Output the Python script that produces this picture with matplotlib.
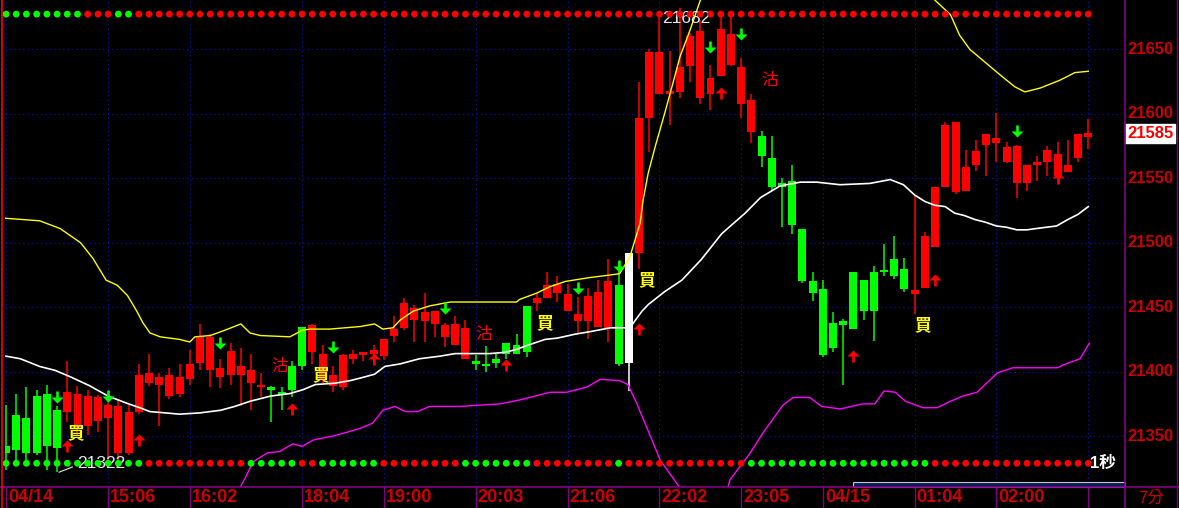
import matplotlib
matplotlib.use("Agg")
import matplotlib.pyplot as plt
import numpy as np
from matplotlib.path import Path
from matplotlib.transforms import blended_transform_factory
from matplotlib.patches import Rectangle
from matplotlib.lines import Line2D

# ---- candle data (one per bar, left to right) ----
opens = [21342, 21366, 21364, 21381, 21383, 21370, 21369, 21357, 21358, 21362,
         21364, 21337, 21337, 21369, 21391, 21390, 21381, 21383, 21394, 21407,
         21401, 21396, 21397, 21397, 21391, 21388, 21387, 21384, 21404, 21435,
         21415, 21394, 21389, 21388, 21410, 21413, 21414, 21412, 21428, 21434,
         21440, 21439, 21437, 21427, 21421, 21410, 21407, 21405, 21410, 21422,
         21421, 21451, 21453, 21457, 21461, 21447, 21439, 21439, 21435, 21434,
         21467, 21407, 21492, 21597, 21615, 21615, 21617, 21637, 21612, 21615,
         21629, 21638, 21608, 21586, 21583, 21566, 21546, 21548, 21511, 21470,
         21464, 21438, 21439, 21477, 21471, 21477, 21478, 21487, 21480, 21460,
         21465, 21497, 21543, 21539, 21540, 21560, 21576, 21577, 21563, 21546,
         21546, 21560, 21563, 21552, 21555, 21566, 21582]
highs = [21374, 21383, 21388, 21386, 21390, 21373, 21408, 21389, 21386, 21382,
         21381, 21378, 21374, 21406, 21414, 21399, 21403, 21406, 21417, 21437,
         21429, 21410, 21422, 21418, 21414, 21399, 21389, 21388, 21408, 21435,
         21437, 21421, 21404, 21414, 21417, 21414, 21421, 21425, 21443, 21457,
         21452, 21461, 21447, 21438, 21443, 21440, 21413, 21420, 21414, 21422,
         21429, 21451, 21461, 21477, 21474, 21468, 21458, 21465, 21471, 21487,
         21485, 21492, 21625, 21650, 21676, 21649, 21682, 21663, 21673, 21638,
         21675, 21678, 21643, 21615, 21587, 21583, 21550, 21560, 21511, 21477,
         21471, 21446, 21441, 21477, 21471, 21482, 21499, 21505, 21488, 21537,
         21508, 21543, 21594, 21594, 21572, 21580, 21584, 21601, 21578, 21576,
         21560, 21567, 21575, 21578, 21580, 21584, 21596]
lows = [21324, 21331, 21331, 21335, 21324, 21322, 21361, 21350, 21351, 21353,
        21326, 21325, 21335, 21367, 21389, 21358, 21379, 21380, 21390, 21401,
        21388, 21387, 21390, 21373, 21370, 21380, 21361, 21370, 21380, 21401,
        21406, 21391, 21384, 21386, 21406, 21408, 21406, 21409, 21423, 21432,
        21423, 21423, 21427, 21419, 21421, 21410, 21401, 21400, 21403, 21410,
        21414, 21411, 21447, 21457, 21454, 21447, 21430, 21425, 21435, 21423,
        21404, 21385, 21480, 21570, 21615, 21591, 21612, 21625, 21608, 21603,
        21629, 21637, 21597, 21577, 21559, 21540, 21512, 21507, 21469, 21455,
        21411, 21415, 21390, 21433, 21440, 21424, 21474, 21472, 21462, 21445,
        21465, 21497, 21543, 21538, 21540, 21556, 21552, 21563, 21562, 21535,
        21540, 21548, 21552, 21547, 21555, 21563, 21573]
closes = [21337, 21339, 21337, 21337, 21342, 21341, 21384, 21383, 21381, 21380,
          21374, 21373, 21369, 21397, 21399, 21396, 21397, 21396, 21406, 21428,
          21427, 21403, 21416, 21404, 21401, 21389, 21386, 21382, 21386, 21404,
          21436, 21414, 21397, 21413, 21414, 21414, 21417, 21425, 21433, 21453,
          21449, 21446, 21447, 21436, 21437, 21434, 21406, 21404, 21407, 21414,
          21414, 21415, 21457, 21467, 21468, 21460, 21445, 21459, 21462, 21470,
          21406, 21492, 21597, 21648, 21648, 21618, 21636, 21660, 21664, 21628,
          21666, 21662, 21636, 21611, 21567, 21543, 21543, 21514, 21470, 21461,
          21413, 21418, 21436, 21433, 21447, 21447, 21477, 21474, 21464, 21463,
          21505, 21543, 21591, 21594, 21559, 21571, 21584, 21581, 21574, 21575,
          21560, 21563, 21572, 21569, 21560, 21584, 21585]
white_bars = [61]

# bollinger style bands, read as (bar index, price)
upper_pts = [(-0.1, 21519), (3.3, 21517), (5.3, 21511), (7.3, 21500), (8.5, 21488),
             (9.8, 21471), (10.9, 21467), (11.9, 21459), (12.8, 21447), (13.4, 21438),
             (14.1, 21430), (15.1, 21427), (17.0, 21425), (18.0, 21423), (18.5, 21427),
             (20.0, 21428), (21.4, 21432), (23.0, 21437), (23.9, 21430), (24.9, 21428),
             (27.8, 21427), (29.0, 21432), (29.8, 21433), (31.7, 21433), (33.2, 21434),
             (34.7, 21435), (36.1, 21437), (36.9, 21433), (37.9, 21434), (38.6, 21440),
             (39.9, 21447), (41.5, 21451), (43.5, 21454), (45.4, 21454), (50.0, 21454),
             (50.3, 21456), (52.0, 21461), (53.3, 21466), (54.8, 21470), (57.2, 21473),
             (59.2, 21475), (60.1, 21476), (61.1, 21489), (61.6, 21502), (62.1, 21515),
             (62.4, 21533), (62.9, 21554), (63.6, 21575), (64.5, 21600), (65.5, 21629),
             (66.0, 21644), (67.0, 21665), (68.0, 21688), (70.0, 21715), (75.0, 21745),
             (80.0, 21755), (85.0, 21740), (89.0, 21712), (91.0, 21688), (92.5, 21677),
             (93.4, 21661), (94.4, 21650), (95.9, 21640), (97.4, 21630), (98.8, 21621),
             (99.8, 21617), (101.3, 21620), (103.2, 21626), (104.7, 21632), (106.0, 21633)]
middle_pts = [(0, 21412), (1.4, 21410), (3.3, 21404), (4.8, 21401), (6.3, 21396),
              (8.2, 21389), (10, 21381), (12, 21375), (13.1, 21372), (14.1, 21369),
              (15.6, 21368), (17, 21367), (19, 21368), (21, 21370), (22.4, 21373),
              (23.9, 21377), (25.9, 21381), (27.8, 21383), (29.1, 21386), (30.3, 21390),
              (32.2, 21391), (33.7, 21393), (34.7, 21395), (36.1, 21398), (37.1, 21404),
              (38.6, 21406), (40.5, 21410), (42.5, 21412), (44, 21414), (47.4, 21414),
              (48.9, 21415), (49.9, 21417), (51.3, 21421), (52.8, 21425), (54, 21426),
              (55.7, 21429), (57.2, 21431), (59.2, 21434), (61.1, 21434), (62.3, 21447),
              (62.9, 21452), (64.5, 21462), (66.2, 21471), (68.1, 21487), (70.1, 21507),
              (72.4, 21523), (73.9, 21535), (75.8, 21544), (77.8, 21547), (79.4, 21547),
              (81.7, 21545), (84.6, 21546), (86.6, 21549), (87.9, 21545), (89, 21537),
              (90, 21532), (91, 21529), (92, 21528), (92.9, 21523), (93.9, 21521),
              (94.9, 21518), (95.9, 21516), (97, 21513), (98, 21512), (99, 21510),
              (100, 21510), (100.9, 21511), (101.9, 21512), (102.9, 21513), (104, 21518),
              (105, 21522), (106, 21528)]
lower_pts = [(21.5, 21290), (23.4, 21317), (24.2, 21330), (25.6, 21337), (26.8, 21338),
             (28.1, 21344), (29, 21342), (30.1, 21347), (32, 21350), (33.4, 21353),
             (34.7, 21356), (35.9, 21360), (36.9, 21370), (38.1, 21373), (39.1, 21369),
             (40.3, 21369), (41.5, 21373), (44.5, 21373), (46.4, 21374), (48.4, 21375),
             (50.3, 21378), (52.3, 21382), (53.3, 21384), (54.9, 21384), (56.9, 21388),
             (58.2, 21394), (60.1, 21393), (60.9, 21390), (61.8, 21375), (64.1, 21331),
             (66, 21310), (68, 21285), (70, 21290), (70.9, 21316), (72.9, 21337),
             (74.1, 21352), (75.1, 21363), (76.1, 21374), (77.1, 21380), (78.7, 21380),
             (79.9, 21373), (81.7, 21371), (83.9, 21375), (85.1, 21375), (86, 21385),
             (87.1, 21384), (88.1, 21377), (89.8, 21372), (91.2, 21372), (92.5, 21377),
             (93.7, 21381), (95.1, 21384), (97.1, 21399), (98.6, 21403), (99.6, 21403),
             (103, 21403), (103.5, 21405), (105.2, 21410), (106.1, 21422)]

# trade signals
buy_idx = [7, 31, 53, 63, 90]
buy_px = [21352, 21397, 21438, 21471, 21436]
sell_idx = [27, 47, 75]
sell_px = [21404, 21429, 21626]
dn_idx = [5, 10, 21, 32, 43, 56, 60, 69, 72, 99]
dn_px = [21380, 21381, 21422, 21419, 21449, 21465, 21482, 21652, 21662, 21587]
up_idx = [6, 13, 28, 36, 49, 62, 70, 83, 91, 103]
up_px = [21342, 21347, 21371, 21410, 21405, 21433, 21616, 21412, 21471, 21550]

# indicator dot rows (G = green, R = red)
top_dots = "GGGGGGGGRRRGG" + "R" * 94
bot_dots = ("GGGGGGGGGGGGGG" + "RRRRRRRRRR" + "GGGGG" + "RR" + "GGGGGG" + "RRRRRRRR"
            + "GGGGGGG" + "RRRRRRRR" + "G" + "RRRRRRRRRRRR" + "GGGGGGGGGGGGGGGGGG"
            + "RRRRRRRRRRRRRRRR")

tick_idx = [0, 10, 18, 29, 37, 46, 55, 64, 72, 80, 89, 97]
tick_lbl = ["04/14", "15:06", "16:02", "18:04", "19:00", "20:03", "21:06",
            "22:02", "23:05", "04/15", "01:04", "02:00"]
price_ticks = [21350, 21400, 21450, 21500, 21550, 21600, 21650]
last_price = 21585

W, H = 1179, 508
fig = plt.figure(figsize=(W / 100, H / 100), dpi=100, facecolor="black")
ax = fig.add_axes([5 / W, 21 / H, 1120 / W, 487 / H])
ax.set_facecolor("black")
ax.set_xlim(-0.1, 109.6)
ax.set_ylim(21310.5, 21688.3)
ax.set_xticks([])
ax.set_yticks([])
for s in ax.spines.values():
    s.set_visible(False)

grid_c = "#1010c8"
ax.hlines(price_ticks, -0.1, 109.6, colors=grid_c, lw=0.8, linestyles=(0, (1, 3)), zorder=1)
ax.vlines(tick_idx + [106], 21310.5, 21688.3, colors=grid_c, lw=0.8, linestyles=(0, (1, 3)), zorder=1)

o = np.array(opens, float)
c = np.array(closes, float)
hi = np.array(highs, float)
lo = np.array(lows, float)
x = np.arange(len(o))
cols = np.where(c >= o, "#ff0000", "#00ff00").astype(object)
for i in white_bars:
    cols[i] = "#ffffff"
ax.vlines(x, lo, hi, colors=list(cols), lw=1.1, zorder=2)
bot = np.minimum(o, c)
hgt = np.maximum(np.abs(c - o), 2.0)
ax.bar(x, hgt, bottom=bot, width=0.78, color=list(cols), linewidth=0, zorder=3)

# bands
for pts, col, lw in [(upper_pts, "#ffff00", 1.0), (middle_pts, "#ffffff", 1.2), (lower_pts, "#ff00ff", 1.0)]:
    px, py = zip(*pts)
    ax.plot(px, py, color=col, lw=lw, zorder=4)

# arrows
dn_arrow = Path([(-0.11, 0.5), (0.11, 0.5), (0.11, 0.0), (0.5, 0.0), (0.0, -0.5),
                 (-0.5, 0.0), (-0.11, 0.0), (-0.11, 0.5)],
                [Path.MOVETO] + [Path.LINETO] * 6 + [Path.CLOSEPOLY])
up_arrow = Path([(vx, -vy) for vx, vy in dn_arrow.vertices], dn_arrow.codes)
ax.scatter(dn_idx, dn_px, marker=dn_arrow, s=75, color="#00ff00", linewidths=0, zorder=6)
ax.scatter(up_idx, up_px, marker=up_arrow, s=75, color="#ff0000", linewidths=0, zorder=6)

cjk = ["Noto Sans CJK TC", "DejaVu Sans"]
for i, p in zip(buy_idx, buy_px):
    ax.text(i - 0.2, p, "買", color="#ffff00", fontsize=12, family=cjk,
            fontweight="bold", ha="center", va="center", zorder=6)
for i, p in zip(sell_idx, sell_px):
    ax.text(i - 0.2, p, "沽", color="#ff0000", fontsize=12, family=cjk,
            ha="center", va="center", zorder=6)

# high / low labels
hi_i = int(np.argmax(hi))
lo_i = int(np.argmin(lo))
ax.text(hi_i + 0.6, hi[hi_i] - 8, f"{int(hi[hi_i])}", color="#e8e8e8", fontsize=12.5,
        family="Liberation Sans", ha="center", va="center", zorder=5)
ax.plot([lo_i + 0.2, lo_i + 1.5], [lo[lo_i], lo[lo_i] + 4], color="#e8e8e8", lw=0.8, zorder=5)
ax.text(lo_i + 2.0, lo[lo_i] + 7, f"{int(lo[lo_i])}", color="#e8e8e8", fontsize=12.5,
        family="Liberation Sans", ha="left", va="center", zorder=5)

# dot rows
tr = blended_transform_factory(ax.transData, ax.transAxes)
dot_map = {"G": "#00ff00", "R": "#ff0000"}
ax.scatter(x, np.full(len(x), 0.971), s=24, c=[dot_map[k] for k in top_dots],
           transform=tr, linewidths=0, zorder=7, clip_on=False)
ax.scatter(x, np.full(len(x), 0.0487), s=24, c=[dot_map[k] for k in bot_dots],
           transform=tr, linewidths=0, zorder=7, clip_on=False)

ax.text(0.980, 0.049, "1秒", transform=ax.transAxes, color="white", fontsize=12,
        family=["Liberation Sans", "Noto Sans CJK TC"], fontweight="bold",
        ha="center", va="center", zorder=8)

# x axis labels and separators
lab_c = "#cc0000"
purple = "#800080"
for i, t in zip(tick_idx + [106], tick_lbl + [""]):
    ax.add_line(Line2D([i, i], [-21 / 487, 0], transform=tr, color=purple, lw=1, clip_on=False))
    if t:
        ax.text(i + 0.2, -11 / 487, t, transform=tr, color=lab_c, fontsize=13,
                family="Liberation Sans", fontweight="bold", ha="left", va="center", clip_on=False)

# right price labels
for p in price_ticks:
    ax.text(1122 / 1120, p, str(p), transform=blended_transform_factory(ax.transAxes, ax.transData),
            color=lab_c, fontsize=12, family="Liberation Sans", fontweight="bold",
            ha="left", va="center", clip_on=False)
ax.text(1122 / 1120, last_price, str(last_price),
        transform=blended_transform_factory(ax.transAxes, ax.transData),
        color="#ff0000", fontsize=12, family="Liberation Sans", fontweight="bold",
        ha="left", va="center", clip_on=False,
        bbox=dict(boxstyle="square,pad=0.12", fc="white", ec="white"))

# frame lines
fig.add_artist(Line2D([0, 1], [21 / H, 21 / H], transform=fig.transFigure, color=purple, lw=1.2))
fig.add_artist(Line2D([1125 / W, 1125 / W], [0, 1], transform=fig.transFigure, color=purple, lw=1.2))
fig.add_artist(Line2D([1177 / W, 1177 / W], [0, 1], transform=fig.transFigure, color=purple, lw=1))
fig.add_artist(Line2D([1.5 / W, 1.5 / W], [0, 1], transform=fig.transFigure, color="#ff0000", lw=1.2))
fig.add_artist(Rectangle((853 / W, 21 / H), 272 / W, 5 / H, transform=fig.transFigure,
                         fc="#0a1e5a", ec="#c8c8c8", lw=0.8))
fig.text(1151 / W, 10 / H, "7分", color=lab_c, fontsize=12,
         family=["Liberation Sans", "Noto Sans CJK TC"], ha="center", va="center")

fig.savefig("out.png", dpi=100, facecolor="black")
